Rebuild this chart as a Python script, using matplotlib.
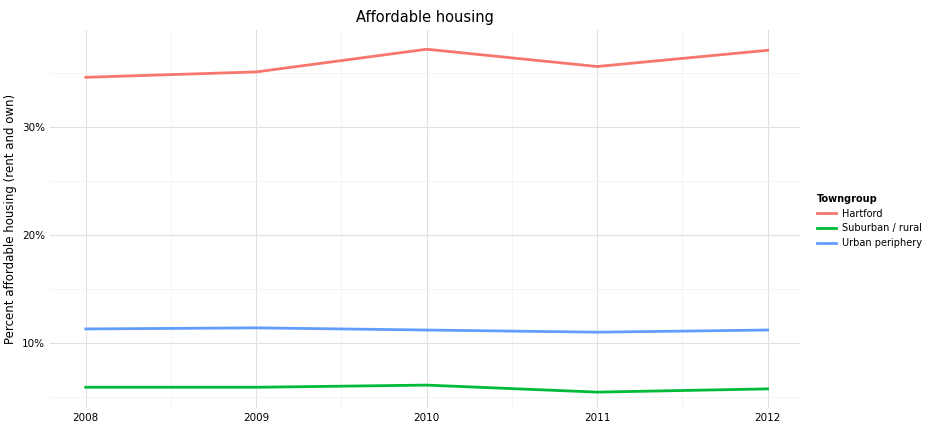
import numpy as np
import matplotlib
matplotlib.use('Agg')
import matplotlib.pyplot as plt
from matplotlib.ticker import FuncFormatter, MultipleLocator

years = [2008, 2009, 2010, 2011, 2012]
hartford = [34.6, 35.1, 37.2, 35.6, 37.1]
suburban = [5.9, 5.9, 6.1, 5.45, 5.75]
urban = [11.3, 11.4, 11.2, 11.0, 11.2]

fig = plt.figure(figsize=(9.36, 4.32), dpi=100)
ax = fig.add_axes([50 / 936, 24 / 432, 750 / 936, 378 / 432])

ax.plot(years, hartford, color='#F8766D', lw=2, label='Hartford')
ax.plot(years, suburban, color='#00BA38', lw=2, label='Suburban / rural')
ax.plot(years, urban, color='#619CFF', lw=2, label='Urban periphery')

ax.set_xlim(2007.79, 2012.19)
ax.set_ylim(3.98, 38.98)
ax.set_xticks(years)
ax.xaxis.set_minor_locator(MultipleLocator(0.5))
ax.set_yticks([10, 20, 30])
ax.yaxis.set_minor_locator(MultipleLocator(5))
ax.yaxis.set_major_formatter(FuncFormatter(lambda v, p: f'{v:.0f}%'))
ax.grid(True, which='major', color='#e0e0e0', lw=0.8)
ax.grid(True, which='minor', color='#f2f2f2', lw=0.6)
ax.set_axisbelow(True)
for s in ax.spines.values():
    s.set_visible(False)
ax.tick_params(length=0, labelsize=7.5, colors='black')
ax.tick_params(which='minor', length=0)

ax.set_title('Affordable housing', fontsize=10.5)
ax.set_ylabel('Percent affordable housing (rent and own)', fontsize=8.5)

leg = fig.legend(loc='upper left', bbox_to_anchor=(808 / 936, 1 - 185 / 432),
                 frameon=False, fontsize=7, title='Towngroup',
                 handlelength=2.0, handletextpad=0.6)
leg.get_title().set_fontweight('bold')
leg.get_title().set_fontsize(7)
leg._legend_box.align = 'left'

fig.savefig('out.png', dpi=100)
